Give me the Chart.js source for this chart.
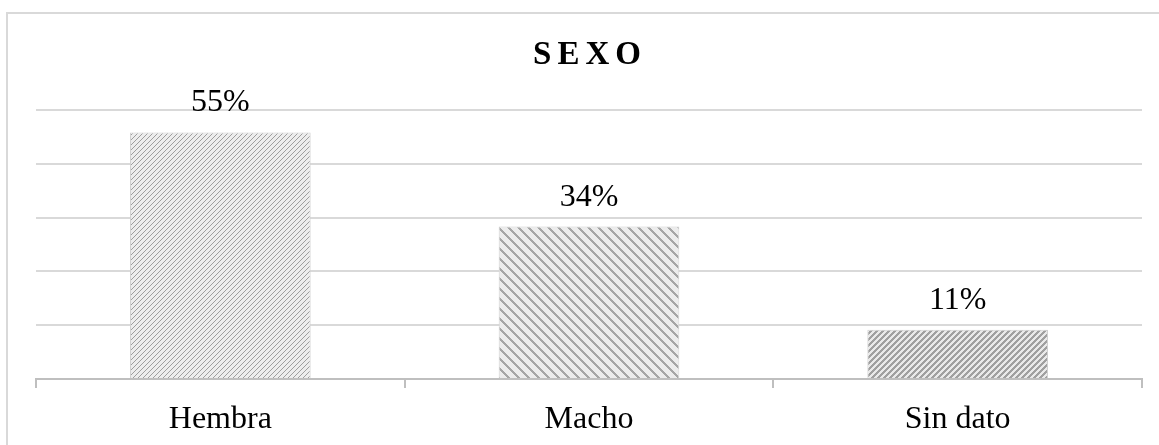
<!DOCTYPE html>
<html>
<head>
<meta charset="utf-8">
<script src="https://cdn.jsdelivr.net/npm/chart.js@4.4.1/dist/chart.umd.min.js"></script>
<style>
  body { margin: 0; background: #fff; }
  #grafico { display: block; }
</style>
</head>
<body>
<canvas id="grafico" width="1159" height="445"></canvas>
<script>
// Datos del gráfico
var titulo = 'SEXO';
var categorias = ['Hembra', 'Macho', 'Sin dato'];
var porcentajes = [55, 34, 11];

var fuente = '"Liberation Serif", "Times New Roman", serif';

// Crea una trama rayada para rellenar cada barra
function crearTrama(tam, fondo, color, esPixel){
    var c = document.createElement('canvas');
    c.width = tam; c.height = tam;
    var ctx = c.getContext('2d');
    ctx.fillStyle = fondo;
    ctx.fillRect(0, 0, tam, tam);
    ctx.fillStyle = color;
    for(var y = 0; y < tam; y++){
        for(var x = 0; x < tam; x++){
            if(esPixel(x, y)) ctx.fillRect(x, y, 1, 1);
        }
    }
    return ctx.createPattern(c, 'repeat');
}

var tramas = [
    // diagonal fina "/"
    crearTrama(5, '#ededed', '#9e9e9e', function(x, y){ return (x + y) % 5 === 0; }),
    // diagonal ancha "\"
    crearTrama(10, '#ececec', '#a6a6a6', function(x, y){ return ((x - y) % 10 + 10) % 10 < 3; }),
    // diagonal media "/"
    crearTrama(6, '#e9e9e9', '#a0a0a0', function(x, y){ return (x + y) % 6 < 3; })
];

// Marco exterior del gráfico (solo se ven el borde superior e izquierdo)
var marco = {
    id: 'marco',
    beforeDraw: function(chart){
        var ctx = chart.ctx;
        ctx.save();
        ctx.strokeStyle = '#d9d9d9';
        ctx.lineWidth = 2;
        ctx.beginPath();
        ctx.moveTo(7, 460);
        ctx.lineTo(7, 13);
        ctx.lineTo(1170, 13);
        ctx.stroke();
        ctx.restore();
    }
};

// Título con espaciado entre letras
var tituloEspaciado = {
    id: 'tituloEspaciado',
    afterDraw: function(chart){
        var ctx = chart.ctx;
        var area = chart.chartArea;
        var esp = 6;
        ctx.save();
        ctx.font = 'bold 33px ' + fuente;
        ctx.letterSpacing = esp + 'px';
        ctx.fillStyle = '#000';
        ctx.textAlign = 'left';
        ctx.textBaseline = 'alphabetic';
        var w = ctx.measureText(titulo).width - esp;
        ctx.fillText(titulo, (area.left + area.right) / 2 - w / 2 - 2, 64);
        ctx.restore();
    }
};

// Etiquetas de porcentaje sobre cada barra
var etiquetas = {
    id: 'etiquetas',
    afterDatasetsDraw: function(chart){
        var ctx = chart.ctx;
        var meta = chart.getDatasetMeta(0);
        ctx.save();
        ctx.font = '32px ' + fuente;
        ctx.fillStyle = '#000';
        ctx.textAlign = 'center';
        ctx.textBaseline = 'alphabetic';
        meta.data.forEach(function(barra, i){
            ctx.fillText(porcentajes[i] + '%', barra.x, barra.y - 21);
        });
        ctx.restore();
    }
};

new Chart(document.getElementById('grafico'), {
    type: 'bar',
    data: {
        labels: categorias,
        datasets: [{
            data: porcentajes,
            backgroundColor: tramas,
            borderColor: '#d0d0d0',
            borderWidth: 1,
            categoryPercentage: 1,
            barPercentage: 0.49
        }]
    },
    options: {
        responsive: false,
        animation: false,
        layout: { padding: { left: 36, right: 17, top: 110, bottom: 0 } },
        plugins: {
            legend: { display: false },
            title: { display: false },
            tooltip: { enabled: false }
        },
        scales: {
            x: {
                afterFit: function(escala){ escala.height = 66; },
                grid: {
                    offset: true,
                    drawOnChartArea: false,
                    drawTicks: true,
                    tickLength: 9,
                    color: '#bfbfbf',
                    lineWidth: 2
                },
                border: { color: '#bfbfbf', width: 2 },
                ticks: {
                    color: '#000',
                    padding: 12,
                    font: { family: fuente, size: 32 }
                }
            },
            y: {
                min: 0,
                max: 60,
                ticks: { display: false, stepSize: 12 },
                border: { display: false },
                grid: { color: '#d9d9d9', lineWidth: 2, drawTicks: false }
            }
        }
    },
    plugins: [marco, tituloEspaciado, etiquetas]
});
</script>
</body>
</html>
